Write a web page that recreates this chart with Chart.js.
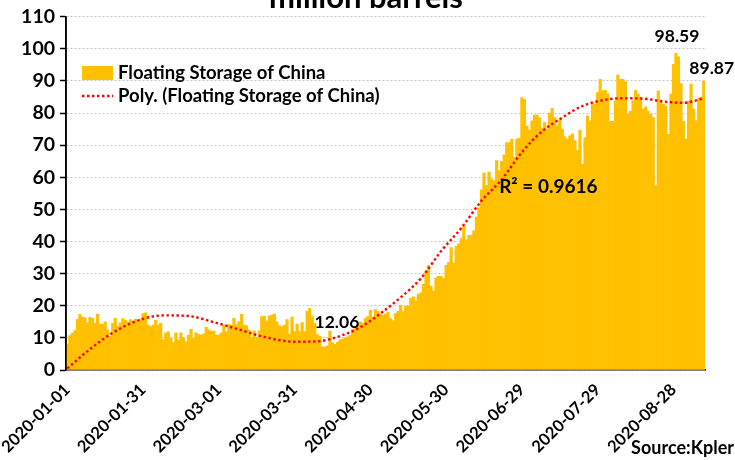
<!DOCTYPE html>
<html>
<head>
<meta charset="utf-8">
<script src="https://cdn.jsdelivr.net/npm/chart.js@4.4.0/dist/chart.umd.min.js"></script>
<style>
  html, body { margin: 0; padding: 0; background: #fff; }
  #wrap { width: 735px; height: 460px; position: relative; }
</style>
</head>
<body>
<div id="wrap"><canvas id="grafico"></canvas></div>
<script>
// daily floating storage of China, million barrels
const startDate = '2020-01-01';
const floatingStorage = [
  8.1, 10.7, 11.5, 12.3, 15.8, 17.3, 16.5, 16.3, 14.7, 16.4,
  16.1, 14.5, 17.4, 14.2, 14.2, 15.0, 12.5, 10.5, 14.5, 16.1,
  13.5, 14.7, 16.0, 15.5, 15.0, 15.7, 15.2, 15.8, 14.8, 15.9,
  17.6, 17.8, 14.0, 13.5, 14.0, 15.5, 14.0, 14.5, 9.5, 11.5,
  12.0,
  10.0, 8.5, 11.6, 9.3, 11.6, 10.0, 8.8, 10.9, 12.7, 10.0,
  11.6, 11.1, 10.9, 11.2, 13.3, 12.5, 12.1, 12.1, 10.9, 10.9,
  11.6, 14.0, 11.9, 14.2, 13.8, 16.1, 14.1, 15.0, 17.3, 14.0,
  13.8, 12.4, 10.2, 12.2, 10.2, 12.2, 16.6, 16.8, 15.2, 16.9,
  17.1, 17.4, 15.0, 13.8,
  13.5, 14.0, 15.7, 11.2, 16.5, 12.0, 14.3, 12.0, 14.8, 12.0,
  18.3, 19.2, 16.6, 14.5, 11.0, 10.5, 7.2, 7.2, 7.5, 12.06,
  8.5, 8.0, 8.6, 9.5, 9.6, 10.0, 10.3, 10.8, 12.5, 13.5,
  14.0, 15.0, 14.5, 16.0, 16.6, 18.6, 16.5, 18.8, 18.3, 17.4,
  17.0, 17.5, 18.0,
  16.0, 15.3, 17.6, 18.3, 20.2, 18.1, 19.9, 19.9, 22.3, 22.8,
  21.5, 23.6, 24.0, 26.7, 30.5, 32.6, 26.1, 24.6, 28.7, 29.2,
  29.2, 28.5, 32.6, 33.5, 38.1, 33.3, 38.5, 39.3, 40.9, 44.7,
  40.6, 41.9, 41.9, 43.3, 47.6, 50.5, 56.1, 61.3, 57.5, 61.6,
  59.5, 59.0, 65.2, 62.0,
  65.0, 67.0, 70.8, 70.8, 71.9, 66.2, 71.9, 72.1, 84.8, 84.3,
  76.0, 74.7, 77.6, 79.4, 79.4, 78.5, 75.3, 77.0, 74.8, 80.0,
  81.5, 78.6, 76.0, 78.0, 75.0, 72.6, 71.9, 72.9, 73.5, 71.4,
  68.3, 74.7, 64.0, 72.4, 79.1, 77.6, 83.2, 82.8, 86.4, 90.5,
  86.9, 87.1, 86.0,
  77.4, 77.4, 83.8, 91.9, 90.5, 90.5, 89.8, 79.6, 80.6, 83.8,
  87.1, 85.9, 85.0, 81.2, 81.9, 80.6, 79.6, 78.6, 57.4, 86.9,
  83.3, 82.8, 82.2, 73.4, 85.9, 95.2, 98.59, 97.5, 89.2, 77.4,
  71.9, 83.8, 89.0, 81.2, 77.6, 84.7, 85.0, 89.87
];

// polynomial trendline as drawn in the original (day index -> value)
const trendDay = [0, 9, 18, 28, 38, 48, 58, 68, 78, 90, 100, 108, 116, 124, 132,
  140, 148, 156, 164, 172, 180, 188, 196, 204, 212, 220, 228, 236, 244, 252];
const trendValue = [0.5, 6.5, 11.6, 15.4, 17.0, 16.8, 14.9, 12.6, 10.3, 8.8, 9.0, 10.6, 13.3, 17.6, 22.6,
  28.5, 37.0, 44.2, 52.7, 59.3, 67.8, 74.3, 78.6, 82.2, 84.0, 84.6, 84.5, 83.6, 83.2, 84.6];

const tickLabels = ['2020-01-01', '2020-01-31', '2020-03-01', '2020-03-31', '2020-04-30',
  '2020-05-30', '2020-06-29', '2020-07-29', '2020-08-28'];
const labeledDays = [104, 241, 252];
const rSquared = 0.9616;

const titleText = 'million barrels';
const seriesName = 'Floating Storage of China';
const trendName = 'Poly. (Floating Storage of China)';
const sourceText = 'Source:Kpler';

const barColor = '#FFC000';
const trendColor = '#FF0000';
const fonte = 'Lato';

var datas = [];
var d0 = new Date(startDate + 'T00:00:00Z');
for (var i = 0; i < floatingStorage.length; i++) {
  var d = new Date(d0.getTime() + i * 86400000);
  datas.push(d.toISOString().slice(0, 10));
}

var trendPoints = trendDay.map(function (dia, k) {
  return { x: datas[dia], y: trendValue[k] };
});

const extrasPlugin = {
  id: 'extras',
  afterDatasetsDraw(chart) {
    const ctx = chart.ctx;
    const xs = chart.scales.x;
    const ys = chart.scales.y;
    const area = chart.chartArea;
    ctx.save();

    // y axis line on top of the first bar
    ctx.strokeStyle = '#000';
    ctx.lineWidth = 1.5;
    ctx.beginPath();
    ctx.moveTo(area.left, area.top);
    ctx.lineTo(area.left, area.bottom);
    ctx.stroke();

    ctx.fillStyle = '#000';

    // title, cut off at the top like the original
    ctx.font = 'bold 31px ' + fonte;
    ctx.textAlign = 'center';
    ctx.textBaseline = 'alphabetic';
    ctx.fillText(titleText, 366, 8);

    // legend inside the plot
    var lx = area.left + 16;
    ctx.fillStyle = barColor;
    ctx.fillRect(lx, 66, 31, 14);
    ctx.strokeStyle = trendColor;
    ctx.lineWidth = 2.4;
    ctx.setLineDash([2.4, 2.6]);
    ctx.beginPath();
    ctx.moveTo(lx, 96);
    ctx.lineTo(lx + 31, 96);
    ctx.stroke();
    ctx.setLineDash([]);
    ctx.fillStyle = '#000';
    ctx.font = 'bold 18.5px ' + fonte;
    ctx.textAlign = 'left';
    ctx.textBaseline = 'middle';
    ctx.fillText(seriesName, lx + 36, 73);
    ctx.fillText(trendName, lx + 36, 96);

    // value labels
    ctx.font = 'bold 17.5px ' + fonte;
    ctx.textAlign = 'center';
    var offs = [[7, -9], [1, -17], [8, -13]];
    labeledDays.forEach(function (dia, k) {
      var px = xs.getPixelForValue(dia);
      var py = ys.getPixelForValue(floatingStorage[dia]);
      ctx.fillText(floatingStorage[dia].toFixed(2), px + offs[k][0], py + offs[k][1]);
    });

    ctx.font = 'bold 19px ' + fonte;
    ctx.textAlign = 'left';
    ctx.fillText('R\u00B2 = ' + rSquared.toFixed(4), xs.getPixelForValue(171), ys.getPixelForValue(57));

    ctx.font = 'bold 18px ' + fonte;
    ctx.textAlign = 'right';
    ctx.textBaseline = 'alphabetic';
    ctx.fillText(sourceText, 734, 454);

    ctx.restore();
  }
};

var grafico = new Chart(document.getElementById('grafico').getContext('2d'), {
  type: 'bar',
  data: {
    labels: datas,
    datasets: [
      {
        type: 'line',
        label: trendName,
        data: trendPoints,
        borderColor: trendColor,
        borderWidth: 2.4,
        borderDash: [2.4, 2.6],
        pointRadius: 0,
        cubicInterpolationMode: 'monotone',
        fill: false,
        order: 0
      },
      {
        label: seriesName,
        data: floatingStorage,
        backgroundColor: barColor,
        borderWidth: 0,
        barPercentage: 1,
        categoryPercentage: 1,
        order: 1
      }
    ]
  },
  options: {
    responsive: true,
    maintainAspectRatio: false,
    animation: false,
    events: [],
    layout: { padding: { top: 16, right: 30, left: 0, bottom: 0 } },
    plugins: {
      legend: { display: false },
      tooltip: { enabled: false },
      title: { display: false }
    },
    scales: {
      x: {
        z: 1,
        grid: { display: false },
        border: { display: true, color: '#000', width: 1.5 },
        ticks: {
          autoSkip: false,
          minRotation: 45,
          maxRotation: 45,
          padding: 2,
          color: '#000',
          font: { family: fonte, size: 16.5, weight: 'bold' },
          callback: function (value, index) {
            var lab = datas[index];
            return tickLabels.includes(lab) ? lab : null;
          }
        },
        afterFit: function (scale) {
          scale.height = 90;
          scale.paddingLeft = 0;
          scale.paddingRight = 0;
        }
      },
      y: {
        min: 0,
        max: 110,
        grid: {
          color: function (c) { return c.tick && c.tick.value === 0 ? 'rgba(0,0,0,0)' : '#c4c4c4'; },
          lineWidth: 1,
          tickColor: '#000',
          tickLength: 6,
          tickWidth: 1.5
        },
        border: { display: true, color: '#000', width: 1.5, dash: [2, 2] },
        ticks: {
          stepSize: 10,
          padding: 5,
          color: '#000',
          font: { family: fonte, size: 19.5, weight: 'bold' }
        },
        afterFit: function (scale) {
          scale.width = 66;
        }
      }
    }
  },
  plugins: [extrasPlugin]
});
</script>
</body>
</html>
